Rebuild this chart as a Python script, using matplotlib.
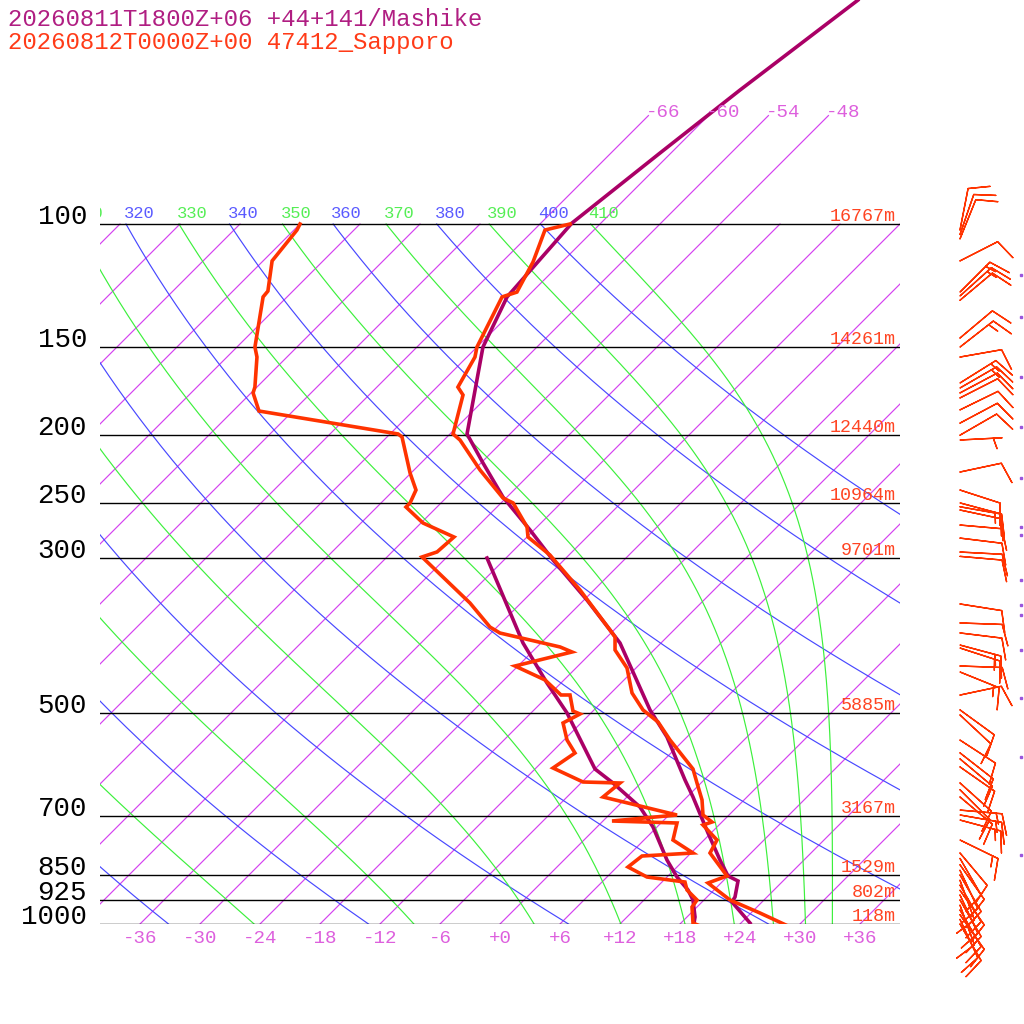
import numpy as np
import matplotlib
matplotlib.use("Agg")
import matplotlib.pyplot as plt

# Sapporo temperature (hPa, degC)
sap_p = [1006.6, 964.5, 924.1, 873.8, 853.9, 791.7, 758.6, 722.1, 715.0, 698.7,
         665.0, 628.9, 600.6, 545.9, 514.5, 494.6, 467.7, 430.8, 406.0, 389.0,
         380.2, 333.3, 297.1, 280.0, 270.9, 250.3, 246.3, 224.6, 203.5, 199.5,
         175.5, 171.0, 154.9, 149.9, 127.1, 125.1, 113.3, 102.0, 100.0]
sap_t = [29.0, 24.9, 20.6, 16.7, 17.9, 13.9, 13.3, 10.4, 11.0, 9.4,
         7.8, 5.6, 3.8, -1.4, -4.4, -7.1, -9.9, -12.9, -15.9, -17.2,
         -18.4, -25.4, -31.9, -35.9, -37.0, -40.8, -42.3, -47.4, -52.4, -53.7,
         -56.6, -57.9, -59.2, -60.0, -62.5, -61.5, -62.9, -64.9, -63.0]

# Sapporo dew point
sap_td_p = [1006.6, 996.7, 945.6, 924.1, 894.2, 871.0, 856.8, 829.0, 799.6, 791.7,
            758.6, 717.3, 712.6, 698.7, 658.5, 628.9, 626.8, 598.6, 569.8, 545.9,
            516.2, 501.2, 496.3, 470.8, 470.8, 448.1, 428.0, 408.7, 402.0, 384.0,
            376.5, 347.9, 299.0, 294.1, 280.0, 267.4, 253.7, 250.3, 239.9, 226.8,
            201.5, 199.5, 185.0, 174.3, 171.0, 154.9, 149.9, 127.1, 124.7, 112.9,
            102.0, 100.0]
sap_td = [20.2, 19.2, 17.5, 17.3, 15.3, 14.3, 10.0, 7.1, 7.4, 12.2,
          8.9, 7.6, 0.9, 6.8, -2.4, -2.1, -5.9, -10.3, -9.6, -11.7,
          -13.8, -13.0, -14.0, -15.9, -16.8, -19.9, -24.3, -20.0, -21.7, -29.1,
          -30.7, -35.1, -44.5, -43.5, -43.3, -47.8, -51.1, -51.1, -51.8, -54.1,
          -58.5, -59.2, -75.4, -77.8, -78.2, -81.0, -82.2, -86.4, -86.5, -89.1,
          -89.7, -90.0]

# Mashike temperature
mas_p = [996.7, 930.2, 915.0, 868.1, 853.9, 810.2, 741.3, 658.5, 622.7, 540.6,
         494.6, 396.8, 344.5, 302.0, 273.6, 245.5, 219.5, 199.5, 149.9, 127.1,
         99.7, 79.2, 64.4, 47.9]
mas_t = [24.9, 21.0, 20.8, 19.5, 18.0, 15.6, 11.7, 6.6, 4.1, -2.0,
         -6.4, -16.1, -23.7, -31.1, -36.4, -42.4, -47.8, -52.3, -59.4, -62.0,
         -62.9, -61.1, -59.4, -56.6]

# Mashike dew point
mas_td_p = [996.7, 977.2, 924.1, 894.2, 856.8, 810.2, 726.8, 680.6, 628.9, 600.6,
            499.5, 452.6, 396.8, 300.0]
mas_td = [19.3, 18.8, 16.9, 15.4, 13.0, 10.3, 5.6, 2.3, -2.8, -6.0,
          -14.4, -19.4, -25.8, -37.9]

# Sapporo winds (hPa, direction from, speed)
wind_p = [102, 103.5, 105, 112.9, 125.1, 126.7, 128.5, 145.5, 149.9, 154.9,
          168.7, 171.5, 174.3, 177.2, 184.3, 192.5, 200.3, 203.5, 226.1, 239.9,
          250.3, 253.5, 256.2, 269.2, 281.0, 294.2, 298.4, 349.0, 371.5, 383.9,
          399.5, 403.4, 428.0, 436.5, 470.9, 494.5, 502.8, 546.1, 569.6, 581.0,
          596.5, 628.8, 643.0, 658.5, 687.5, 698.7, 710.4, 758.6, 791.7, 806,
          823, 838, 851, 866, 880, 895, 909, 924, 940, 955,
          970, 985, 1000]
wind_dir = [11, 19, 22, 63, 45, 48, 50, 50, 52, 80,
            58, 60, 62, 63, 64, 62, 60, 87, 78, 108,
            105, 100, 102, 95, 97, 93, 95, 99, 92, 97,
            105, 108, 92, 112, 78, 126, 133, 123, 128, 130,
            125, 132, 135, 130, 95, 100, 105, 116, 140, 150,
            145, 155, 150, 160, 150, 145, 155, 150, 160, 150,
            145, 155, 150]
wind_spd = [10, 10, 10, 10, 15, 15, 10, 10, 15, 10,
            15, 15, 10, 10, 10, 10, 10, 5, 10, 10,
            15, 10, 10, 10, 10, 10, 10, 10, 10, 10,
            15, 15, 10, 15, 10, 10, 10, 10, 10, 10,
            10, 10, 10, 10, 15, 15, 15, 15, 10, 10,
            10, 10, 10, 10, 10, 10, 10, 10, 10, 10,
            10, 10, 10]

# Mashike winds: only the clipped tips show at the right edge
mas_wind_p = [118.2, 135.8, 165.4, 195.0, 230.6, 270.9, 278.1, 322.5, 350.2,
              361.9, 406.0, 475.5, 577.3, 797.0]

# labelled levels
levels = [100, 150, 200, 250, 300, 500, 700, 850, 925, 1000]
heights = ['16767m', '14261m', '12440m', '10964m', '9701m', '5885m',
           '3167m', '1529m', '802m', '118m']
thetas = list(range(240, 401, 20))
theta_es = list(range(250, 411, 20))
isotherms = list(range(-108, 37, 6))
bottom_ticks = list(range(-36, 37, 6))

title1 = '20260811T1800Z+06 +44+141/Mashike'
title2 = '20260812T0000Z+00 47412_Sapporo'

MAG = '#aa0066'
RED = '#ff3300'
ISO_C = '#d442f0'
ISO_LAB = '#dd5fdd'
BLUE = '#4848ff'
GREEN = '#3cf03c'

SKEW = 70.0
P_TOP = 1000.0 * 10 ** (-924 / 700)

plt.rcParams['font.family'] = ['Liberation Mono', 'DejaVu Sans Mono']


def sx(t, p):
    return np.asarray(t, dtype=float) + SKEW * np.log10(1000.0 / np.asarray(p, dtype=float))


def theta_e_sat(tk, p):
    with np.errstate(all='ignore'):
        es = 6.112 * np.exp(17.67 * (tk - 273.15) / (tk - 29.65))
        r = 622.0 * es / np.maximum(p - es, 1e-3)
        return (tk * (1000.0 / p) ** (0.2854 * (1 - 0.28e-3 * r))
                * np.exp((3.376 / tk - 0.00254) * r * (1 + 0.81e-3 * r)))


def moist_t(the, p):
    lo = np.full_like(p, 150.0)
    hi = np.full_like(p, 330.0)
    for _ in range(50):
        mid = 0.5 * (lo + hi)
        big = theta_e_sat(mid, p) > the
        hi = np.where(big, mid, hi)
        lo = np.where(big, lo, mid)
    return 0.5 * (lo + hi) - 273.15


fig = plt.figure(figsize=(10.24, 10.24), dpi=100)
ax = fig.add_axes([100 / 1024, 100 / 1024, 800 / 1024, 924 / 1024])
ax.set_yscale('log')
ax.set_xlim(-40, 40)
ax.set_ylim(1000, P_TOP)
ax.axis('off')

pg = np.geomspace(1000, 100, 300)
grid_kw = dict(lw=0.85)


def top_label(txt, x, col):
    # labels sit just above the 100 hPa line, cut off at the frame edge
    if x < -44:
        return
    ax.annotate(txt, (x, 100), xytext=(-1.5, 4), textcoords='offset points',
                ha='left', va='baseline', color=col, fontsize=12.3,
                annotation_clip=False, clip_on=True)


# isotherms
for t in isotherms:
    ptop = 70 if -66 <= t <= -48 else 100
    pp = np.array([1000.0, ptop])
    ax.plot(sx([t, t], pp), pp, color=ISO_C, **grid_kw)
    if ptop == 70:
        ax.annotate('%d' % t, (sx(t, 70), 70), xytext=(-1.5, -1.2),
                    textcoords='offset points', ha='left', va='baseline',
                    color=ISO_LAB, fontsize=13.8)

# dry adiabats
for th in thetas:
    tt = th * (pg / 1000.0) ** 0.2857 - 273.15
    ax.plot(sx(tt, pg), pg, color=BLUE, **grid_kw)
    top_label(str(th), float(sx(tt[-1], 100)), '#5a5aff')

# moist adiabats
for the in theta_es:
    tt = moist_t(the, pg)
    ax.plot(sx(tt, pg), pg, color=GREEN, **grid_kw)
    top_label(str(the), float(sx(tt[-1], 100)), '#55ee55')

# pressure lines and labels
for lev, h in zip(levels, heights):
    ax.plot([-40, 40], [lev, lev], color='black', lw=1.0)
    ax.text(-41.3, lev, str(lev), ha='right', va='baseline', fontsize=19.8,
            color='black', clip_on=False)
    ax.annotate(h, (39.6, lev), xytext=(0, 2.2), textcoords='offset points',
                ha='right', va='baseline', color='#ff4422', fontsize=13.2)

for t in bottom_ticks:
    ax.annotate('%+d' % t, (t, 1000), xytext=(0, -4.5), textcoords='offset points',
                ha='center', va='top', color=ISO_LAB, fontsize=13.8,
                annotation_clip=False)

# soundings
ax.plot(sx(mas_td, mas_td_p), mas_td_p, color=MAG, lw=2.6, solid_joinstyle='miter')
ax.plot(sx(mas_t, mas_p), mas_p, color=MAG, lw=2.6, solid_joinstyle='miter')
ax.plot(sx(sap_td, sap_td_p), sap_td_p, color=RED, lw=2.6, solid_joinstyle='miter')
ax.plot(sx(sap_t, sap_p), sap_p, color=RED, lw=2.6, solid_joinstyle='miter')

# winds
wd = np.deg2rad(wind_dir)
ws = np.asarray(wind_spd, dtype=float)
u = -ws * np.sin(wd)
v = -ws * np.cos(wd)
ax.barbs(np.full(len(wind_p), 46.0), wind_p, u, v, length=7.8, color=RED,
         lw=1.0, clip_on=False, sizes=dict(height=0.5, width=0.3, spacing=0.14))
ax.plot(np.full(len(mas_wind_p), 52.1), mas_wind_p, ls='none', marker='s',
        ms=1.6, color='#9a55dd', clip_on=False)

fig.text(8 / 1024, 1 - 26 / 1024, title1, color='#b01e82', fontsize=17.3,
         va='baseline', ha='left')
fig.text(8 / 1024, 1 - 49 / 1024, title2, color='#ff3b18', fontsize=17.3,
         va='baseline', ha='left')

fig.savefig('out.png', dpi=100, facecolor='white')
